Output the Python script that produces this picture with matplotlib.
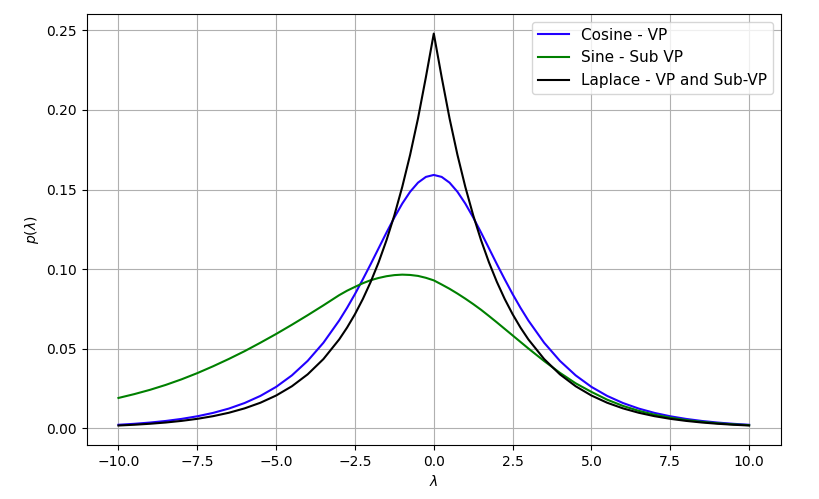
import matplotlib
matplotlib.use("Agg")
import matplotlib.pyplot as plt

lam = [-10.0, -9.5, -9.0, -8.5, -8.0, -7.5, -7.0, -6.5, -6.0, -5.5, -5.0, -4.5, -4.0, -3.5,
       -3.0, -2.75, -2.5, -2.25, -2.0, -1.75, -1.5, -1.25, -1.0, -0.75, -0.5, -0.25,
       0.0, 0.25, 0.5, 0.75, 1.0, 1.25, 1.5, 1.75, 2.0, 2.25, 2.5, 2.75, 3.0,
       3.5, 4.0, 4.5, 5.0, 5.5, 6.0, 6.5, 7.0, 7.5, 8.0, 8.5, 9.0, 9.5, 10.0]

cosine_vp = [0.00214, 0.00275, 0.00354, 0.00454, 0.00583, 0.00748, 0.00960, 0.01232, 0.01581,
             0.02027, 0.02595, 0.03318, 0.04230, 0.05369,
             0.06766, 0.07565, 0.08428, 0.09355, 0.10314, 0.11305, 0.12293, 0.13243, 0.14114,
             0.14858, 0.15431, 0.15792,
             0.15915, 0.15792, 0.15431, 0.14858, 0.14114, 0.13243, 0.12293, 0.11305, 0.10314,
             0.09355, 0.08428, 0.07565, 0.06766,
             0.05369, 0.04230, 0.03318, 0.02595, 0.02027, 0.01581, 0.01232, 0.00960, 0.00748,
             0.00583, 0.00454, 0.00354, 0.00275, 0.00214]

sine_subvp = [0.0190, 0.0214, 0.0241, 0.0272, 0.0307, 0.0346, 0.0389, 0.0435, 0.0484,
              0.0537, 0.0592, 0.0650, 0.0710, 0.0772,
              0.0836, 0.0864, 0.0888, 0.0911, 0.0930, 0.0944, 0.0955, 0.0962, 0.0965,
              0.0963, 0.0957, 0.0945,
              0.0929, 0.0903, 0.0876, 0.0846, 0.0814, 0.0780, 0.0744, 0.0705, 0.0665,
              0.0624, 0.0583, 0.0542, 0.0501,
              0.0422, 0.0348, 0.0282, 0.0228, 0.0179, 0.0140, 0.0109, 0.0085, 0.0066,
              0.0051, 0.0040, 0.0031, 0.0024, 0.0019]

laplace = [0.00168, 0.00216, 0.00278, 0.00357, 0.00458, 0.00588, 0.00755, 0.00969, 0.01245,
           0.01598, 0.02052, 0.02635, 0.03383, 0.04344,
           0.05578, 0.06321, 0.07163, 0.08116, 0.09197, 0.10421, 0.11809, 0.13381, 0.15163,
           0.17182, 0.19470, 0.22062,
           0.2480, 0.22062, 0.19470, 0.17182, 0.15163, 0.13381, 0.11809, 0.10421, 0.09197,
           0.08116, 0.07163, 0.06321, 0.05578,
           0.04344, 0.03383, 0.02635, 0.02052, 0.01598, 0.01245, 0.00969, 0.00755, 0.00588,
           0.00458, 0.00357, 0.00278, 0.00216, 0.00168]

labels = ["Cosine - VP", "Sine - Sub VP", "Laplace - VP and Sub-VP"]

fig = plt.figure(figsize=(8.2, 4.99), dpi=100)
ax = fig.add_axes([0.106, 0.108, 0.846, 0.864])
ax.plot(lam, cosine_vp, color="#2200ff", label=labels[0], lw=1.5)
ax.plot(lam, sine_subvp, color="green", label=labels[1], lw=1.5)
ax.plot(lam, laplace, color="black", label=labels[2], lw=1.5)
ax.set_xlabel(r"$\lambda$")
ax.set_ylabel(r"$p(\lambda)$")
ax.grid(True)
ax.legend(loc="upper right", fontsize=11)
fig.savefig("out.png", dpi=100)
